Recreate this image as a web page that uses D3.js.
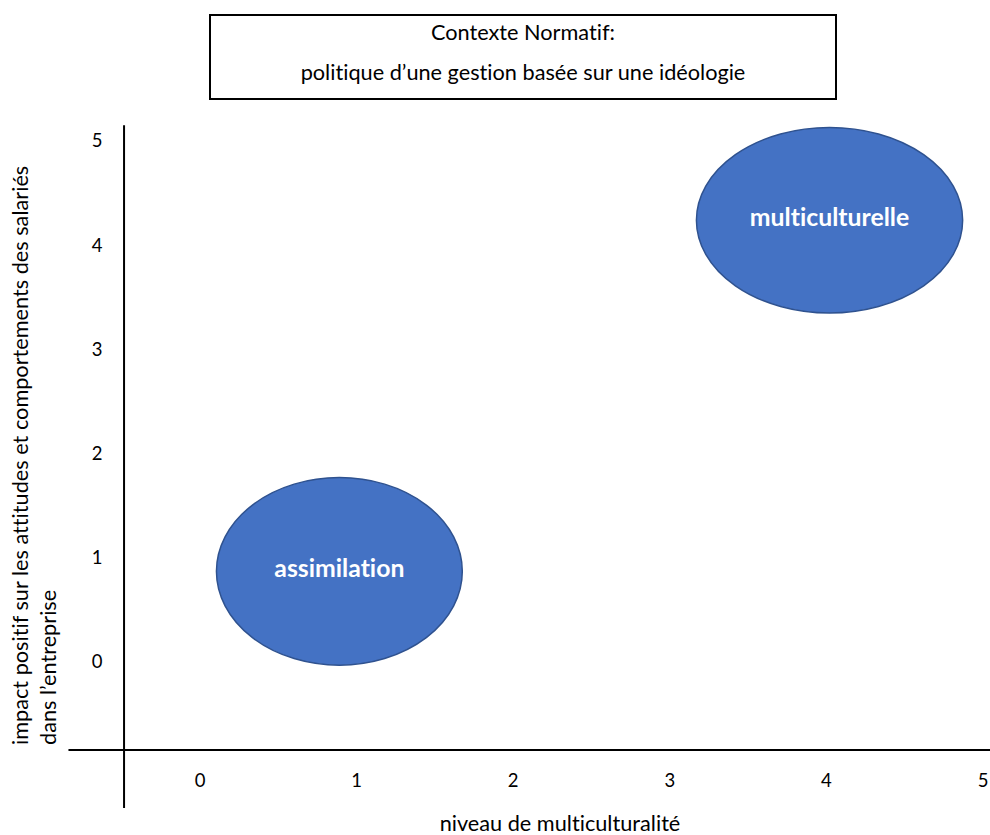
<!DOCTYPE html>
<html>
<head>
<meta charset="utf-8">
<script src="https://cdn.jsdelivr.net/npm/d3@7"></script>
<style>
  html, body { margin: 0; padding: 0; background: #fff; }
  svg { display: block; font-family: Lato, "Open Sans", sans-serif; font-variant-ligatures: none; }
</style>
</head>
<body>
<svg id="chart" width="990" height="835"></svg>
<script>
// Framing context shown above the plot
const contextLines = ["Contexte Normatif:", "politique d\u2019une gestion basée sur une idéologie"];

// Axis ticks and titles
const xTicks = [0, 1, 2, 3, 4, 5];
const yTicks = [0, 1, 2, 3, 4, 5];
const xTitle = "niveau de multiculturalité";
const yTitleLines = ["impact positif sur les attitudes et comportements des salariés", "dans l\u2019entreprise"];

// Management approaches: position and spread on both axes
const approaches = ["assimilation", "multiculturelle"];
const approachX  = [0.89, 4.02];
const approachY  = [0.87, 4.24];
const spreadX    = [0.785, 0.85];
const spreadY    = [0.90, 0.89];

const svg = d3.select("#chart");

const x = d3.scaleLinear().domain([0, 5]).range([200, 983]);
const y = d3.scaleLinear().domain([0, 5]).range([662, 141]);

// Where the two axis lines sit, in data units
const xAxisAtY = -0.845, yAxisAtX = -0.485;
const xAxisExtent = [-0.84, 5.05];
const yAxisExtent = [-1.4, 5.15];

const textSize = 21.7;

// Context box
const box = svg.append("g");
box.append("rect")
  .attr("x", 210).attr("y", 15).attr("width", 626).attr("height", 84)
  .attr("fill", "#fff").attr("stroke", "#000").attr("stroke-width", 2);
box.selectAll("text").data(contextLines).join("text")
  .attr("x", 523).attr("y", (d, i) => 40 + i * 40)
  .attr("text-anchor", "middle")
  .attr("font-size", textSize).attr("fill", "#000")
  .text(d => d);

// Axis lines
svg.append("line")
  .attr("x1", x(xAxisExtent[0])).attr("x2", x(xAxisExtent[1]))
  .attr("y1", y(xAxisAtY)).attr("y2", y(xAxisAtY))
  .attr("stroke", "#000").attr("stroke-width", 2);
svg.append("line")
  .attr("x1", x(yAxisAtX)).attr("x2", x(yAxisAtX))
  .attr("y1", y(yAxisExtent[0])).attr("y2", y(yAxisExtent[1]))
  .attr("stroke", "#000").attr("stroke-width", 2);

// Tick labels
svg.append("g").selectAll("text").data(xTicks).join("text")
  .attr("x", d => x(d)).attr("y", 781)
  .attr("dy", "0.35em").attr("text-anchor", "middle")
  .attr("font-size", 18.5).attr("fill", "#000")
  .text(d => d);
svg.append("g").selectAll("text").data(yTicks).join("text")
  .attr("x", 97).attr("y", d => y(d))
  .attr("dy", "0.35em").attr("text-anchor", "middle")
  .attr("font-size", 18.5).attr("fill", "#000")
  .text(d => d);

// Axis titles
svg.append("text")
  .attr("x", 560).attr("y", 831)
  .attr("text-anchor", "middle").attr("font-size", textSize).attr("fill", "#000")
  .text(xTitle);
svg.append("g").selectAll("text").data(yTitleLines).join("text")
  .attr("transform", (d, i) => `translate(${28 + i * 28},745) rotate(-90)`)
  .attr("text-anchor", "start").attr("font-size", textSize).attr("fill", "#000")
  .text(d => d);

// Approach ellipses
const blobs = svg.append("g").selectAll("g").data(approaches).join("g");
blobs.append("ellipse")
  .attr("cx", (d, i) => x(approachX[i]))
  .attr("cy", (d, i) => y(approachY[i]))
  .attr("rx", (d, i) => x(spreadX[i]) - x(0))
  .attr("ry", (d, i) => y(0) - y(spreadY[i]))
  .attr("fill", "#4472C4").attr("stroke", "#2F528F").attr("stroke-width", 1.5);
blobs.append("text")
  .attr("x", (d, i) => x(approachX[i]))
  .attr("y", (d, i) => y(approachY[i]))
  .attr("dy", "0.22em").attr("text-anchor", "middle")
  .attr("font-size", 24.8).attr("font-weight", "bold").attr("fill", "#fff")
  .text(d => d);
</script>
</body>
</html>
